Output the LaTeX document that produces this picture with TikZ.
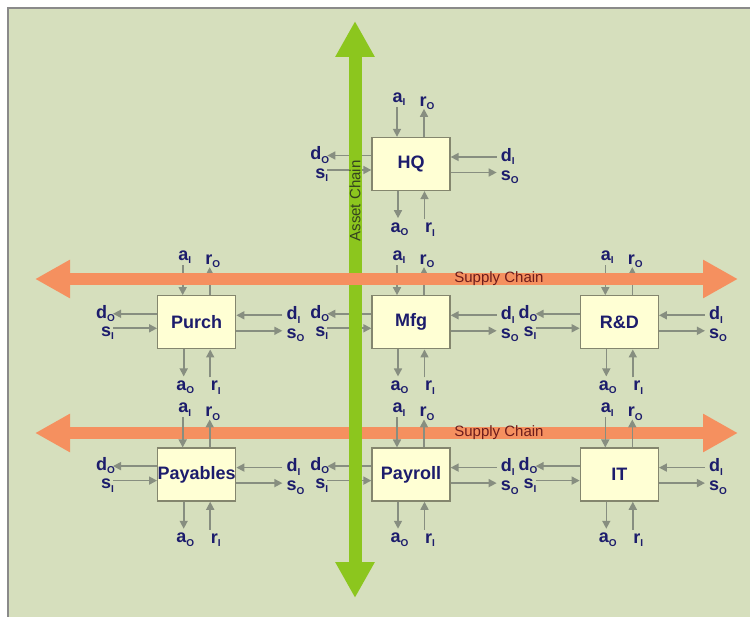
\documentclass[tikz,border=0pt]{standalone}
\usepackage{fontspec}
\setmainfont{Liberation Sans}
\usetikzlibrary{arrows.meta, positioning}

\definecolor{panel}{HTML}{D6DFBD}
\definecolor{framegray}{HTML}{8A8A8A}
\definecolor{boxfill}{HTML}{FFFFD4}
\definecolor{boxline}{HTML}{84866E}
\definecolor{portgray}{HTML}{878E80}
\definecolor{inkblue}{HTML}{1C1C6C}
\definecolor{supplyorange}{HTML}{F5905F}
\definecolor{supplytext}{HTML}{6E1C1C}
\definecolor{assetgreen}{HTML}{8CC61E}
\definecolor{assettext}{HTML}{34421E}

\tikzset{
  unitbox/.style={draw=boxline, fill=boxfill, line width=1.3pt,
    minimum width=78pt, minimum height=53pt, inner sep=0pt,
    font=\fontsize{18}{18}\selectfont\bfseries, text=inkblue},
  port/.style={draw=portgray, line width=1.6pt,
    -{Triangle[length=8pt 0 0, width=8pt 0 0]}},
  sig/.style={font=\fontsize{18}{18}\selectfont\bfseries, text=inkblue, inner sep=0pt},
  chaintext/.style={font=\fontsize{15}{15}\selectfont, inner sep=0pt},
  supply/.style={draw=supplyorange, line width=12pt,
    {Triangle[length=35pt 0 0, width=36pt 0 0]}-{Triangle[length=35pt 0 0, width=36pt 0 0]}},
  asset/.style={draw=assetgreen, line width=13pt,
    {Triangle[length=36pt 0 0, width=37pt 0 0]}-{Triangle[length=36pt 0 0, width=37pt 0 0]}}
}

% signal name with subscript
\newcommand{\sigl}[2]{#1\raisebox{-3.5pt}{\fontsize{10}{10}\selectfont #2}}

% the eight ports round one unit
\newcommand{\ports}[1]{%
  \coordinate (#1-ai) at ([xshift=-14pt,yshift=30pt]#1.north);
  \coordinate (#1-ro) at ([xshift=13pt,yshift=28pt]#1.north);
  \coordinate (#1-do) at ([xshift=-44pt,yshift=8.5pt]#1.west);
  \coordinate (#1-si) at ([xshift=-44pt,yshift=-6pt]#1.west);
  \coordinate (#1-di) at ([xshift=46pt,yshift=7pt]#1.east);
  \coordinate (#1-so) at ([xshift=46pt,yshift=-8.5pt]#1.east);
  \coordinate (#1-ao) at ([xshift=-13pt,yshift=-27pt]#1.south);
  \coordinate (#1-ri) at ([xshift=13.5pt,yshift=-28pt]#1.south);
  \draw[port] (#1-ai) -- (#1-ai |- #1.north);
  \draw[port] (#1-ro |- #1.north) -- (#1-ro);
  \draw[port] (#1-do -| #1.west) -- (#1-do);
  \draw[port] (#1-si) -- (#1-si -| #1.west);
  \draw[port] (#1-di) -- (#1-di -| #1.east);
  \draw[port] (#1-so -| #1.east) -- (#1-so);
  \draw[port] (#1-ao |- #1.south) -- (#1-ao);
  \draw[port] (#1-ri) -- (#1-ri |- #1.south);
  \node[sig, anchor=south, xshift=2pt, yshift=1pt] at (#1-ai) {\sigl{a}{I}};
  \node[sig, anchor=south, xshift=3pt, yshift=-1pt] at (#1-ro) {\sigl{r}{O}};
  \node[sig, anchor=east, xshift=2pt, yshift=0.5pt] at (#1-do) {\sigl{d}{O}};
  \node[sig, anchor=east, xshift=1pt, yshift=-5pt] at (#1-si) {\sigl{s}{I}};
  \node[sig, anchor=west, xshift=4pt, yshift=0.5pt] at (#1-di) {\sigl{d}{I}};
  \node[sig, anchor=west, xshift=4pt, yshift=-4.5pt] at (#1-so) {\sigl{s}{O}};
  \node[sig, anchor=north, xshift=1.5pt, yshift=-4pt] at (#1-ao) {\sigl{a}{O}};
  \node[sig, anchor=north, xshift=5.5pt, yshift=-3.5pt] at (#1-ri) {\sigl{r}{I}};
}

\begin{document}
\begin{tikzpicture}[x=1pt, y=-1pt]
  \useasboundingbox (0,0) rectangle (750,617);
  \fill[white] (0,0) rectangle (750,617);
  \fill[panel] (8,8) rectangle (750,617);
  \draw[framegray, line width=1.5pt] (8,617) -- (8,8) -- (750,8);

  % lower supply chain
  \coordinate (sc2-w) at (35,433);
  \coordinate (sc2-e) at (738,433);
  \draw[supply] (sc2-w) -- (sc2-e);
  \node[chaintext, text=supplytext] (sc2) at (499,433) {Supply Chain};

  % units
  \node[unitbox] (hq) at (411,164) {HQ};
  \node[unitbox, below=104pt of hq] (mfg) {Mfg};
  \node[unitbox, left=135pt of mfg] (purch) {Purch};
  \node[unitbox, right=129pt of mfg] (rnd) {R\&D};
  \node[unitbox, below=98pt of purch] (payables) {Payables};
  \node[unitbox, below=98pt of mfg] (payroll) {Payroll};
  \node[unitbox, below=98pt of rnd] (it) {IT};

  \foreach \u in {hq,purch,mfg,rnd,payables,payroll,it} {\ports{\u}}

  % asset chain
  \coordinate (ac-n) at (355,21);
  \coordinate (ac-s) at (355,598);
  \draw[asset] (ac-s) -- (ac-n);
  \node[chaintext, text=assettext, rotate=90] (ac) at (355,201) {Asset Chain};

  % upper supply chain
  \coordinate (sc1-w) at (35,279);
  \coordinate (sc1-e) at (738,279);
  \draw[supply] (sc1-w) -- (sc1-e);
  \node[chaintext, text=supplytext] (sc1) at (499,279) {Supply Chain};
\end{tikzpicture}
\end{document}
